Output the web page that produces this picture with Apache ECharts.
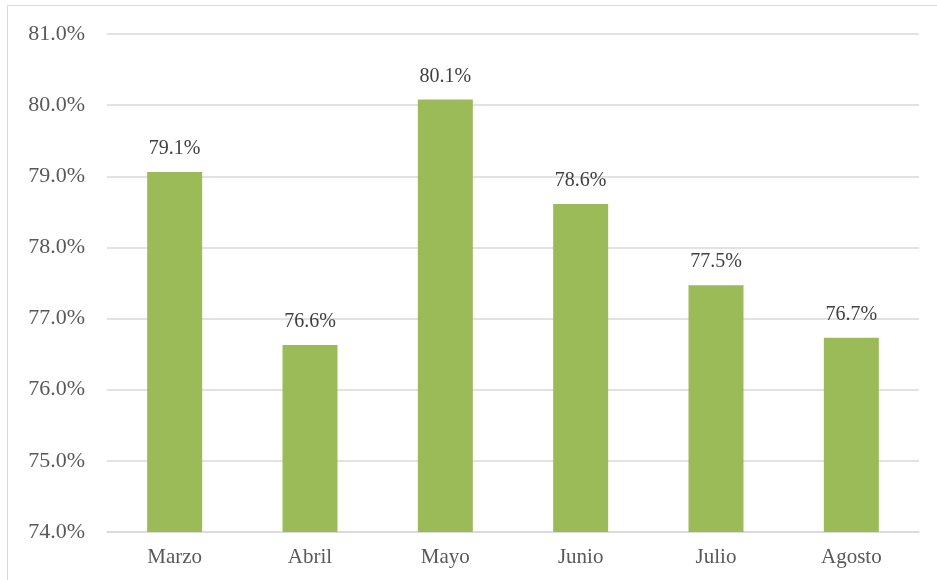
<!DOCTYPE html>
<html><head><meta charset="utf-8">
<script src="https://cdn.jsdelivr.net/npm/echarts@6/dist/echarts.min.js"></script>
<style>html,body{margin:0;padding:0;background:#fff}#c{width:937px;height:580px}</style>
</head><body><div id="c"></div>
<script>
const categories = ['Marzo','Abril','Mayo','Junio','Julio','Agosto'];
const values = [79.06, 76.63, 80.08, 78.61, 77.47, 76.73];
const labels = ['79.1%','76.6%','80.1%','78.6%','77.5%','76.7%'];
const yMin = 74, yMax = 81, yStep = 1;

const chart = echarts.init(document.getElementById('c'), null, {renderer:'canvas'});
const font = '"Liberation Serif", "Times New Roman", serif';
chart.setOption({
  animation:false,
  graphic:[{type:'rect',shape:{x:7.5,y:5.5,width:940,height:580},style:{fill:'none',stroke:'#d9d9d9',lineWidth:1},z:-1}],
  grid:{left:107,right:18,top:34,bottom:48},
  xAxis:{type:'category',data:categories,
    axisLine:{lineStyle:{color:'#d9d9d9',width:1.5}},axisTick:{show:false},
    axisLabel:{fontFamily:font,fontSize:21,color:'#595959',margin:15}},
  yAxis:{type:'value',min:yMin,max:yMax,interval:yStep,
    axisLine:{show:false},axisTick:{show:false},
    splitLine:{lineStyle:{color:'#d9d9d9',width:1.5}},
    axisLabel:{fontFamily:font,fontSize:22,color:'#595959',margin:22,formatter:v=>v.toFixed(1)+'%'}},
  series:[{type:'bar',data:values,barWidth:55,itemStyle:{color:'#9bbb59'},
    label:{show:true,position:'top',distance:13,fontFamily:font,fontSize:20,color:'#404040',
      formatter:p=>labels[p.dataIndex]}}]
});
</script></body></html>
